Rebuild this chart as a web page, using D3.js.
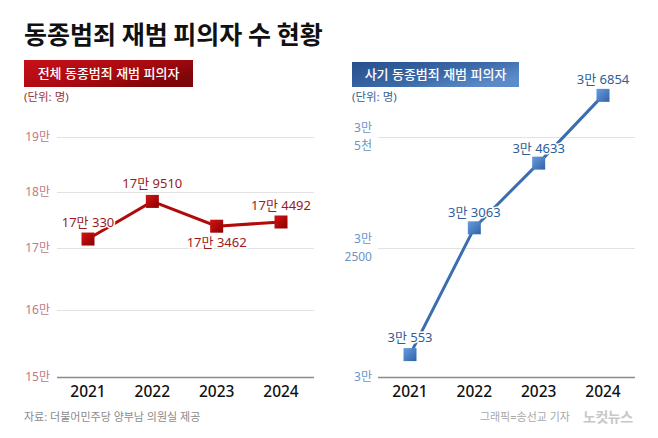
<!DOCTYPE html>
<html><head><meta charset="utf-8">
<script src="https://cdn.jsdelivr.net/npm/d3@7"></script>
<style>
html,body{margin:0;padding:0;background:#fff;}
svg{display:block;font-family:"Noto Sans","Noto Sans CJK KR",sans-serif;}
</style></head>
<body><svg id="c" width="658" height="438"></svg>
<script>
// ---- data ----
const years = ["2021","2022","2023","2024"];
const totalValues = [170330, 179510, 173462, 174492];
const totalLabels = ["17만 330","17만 9510","17만 3462","17만 4492"];
const totalTicks = [150000,160000,170000,180000,190000];
const totalTickLabels = ["15만","16만","17만","18만","19만"];
const fraudValues = [30553, 33063, 34633, 36854];
const fraudLabels = ["3만 553","3만 3063","3만 4633","3만 6854"];
const fraudTicks = [30000,32500,35000];
const fraudTickLabels = [["3만"],["3만","2500"],["3만","5천"]];
const title = "동종범죄 재범 피의자 수 현황";
const leftTitle = "전체 동종범죄 재범 피의자";
const rightTitle = "사기 동종범죄 재범 피의자";
const unitText = "(단위: 명)";
const sourceText = "자료: 더불어민주당 양부남 의원실 제공";
const creditText = "그래픽=송선교 기자";
const logoText = "노컷뉴스";

const svg = d3.select("#c");
const defs = svg.append("defs");
function grad(id, stops, x2, y2){
  const g = defs.append("linearGradient").attr("id",id)
    .attr("x1","0").attr("y1","0").attr("x2",x2).attr("y2",y2);
  stops.forEach(s=>g.append("stop").attr("offset",s[0]).attr("stop-color",s[1]));
}
grad("redBox",[[0,"#c81018"],[0.6,"#a80a10"],[1,"#7e0508"]],"1","0.6");
grad("blueBox",[[0,"#264f8c"],[0.6,"#3b69a8"],[1,"#5b8cc9"]],"1","0.6");
grad("redMk",[[0,"#d41414"],[1,"#8a0000"]],"1","1");
grad("blueMk",[[0,"#6a9be0"],[1,"#2f63a6"]],"1","1");

// title
svg.append("text").attr("x",24).attr("y",44).attr("font-size",25).attr("font-weight",700)
  .attr("font-family","Noto Sans CJK KR").attr("fill","#111").text(title);

// footer
svg.append("text").attr("x",24).attr("y",421).attr("font-size",11).attr("fill","#8a8a8a").text(sourceText);
svg.append("text").attr("x",570).attr("y",421).attr("text-anchor","end").attr("font-size",11).attr("fill","#a8a8a8").text(creditText);
svg.append("text").attr("x",583).attr("y",422).attr("font-size",14).attr("font-weight",700).attr("fill","#c8c8c8").attr("letter-spacing",-0.5).text(logoText);

function panel(o){
  const g = svg.append("g");
  // header box
  g.append("rect").attr("x",o.boxX).attr("y",o.boxY).attr("width",o.boxW).attr("height",o.boxH).attr("fill",o.boxFill);
  g.append("text").attr("x",o.boxX+o.boxW/2).attr("y",o.boxY+o.boxH/2+4.5).attr("text-anchor","middle")
    .attr("font-size",13).attr("font-weight",500).attr("fill","#fff").text(o.header);
  g.append("text").attr("x",o.boxX).attr("y",101).attr("font-size",11.5).attr("fill",o.unitColor).text(unitText);

  const x = d3.scalePoint().domain(years).range(o.xRange);
  // grid
  const axis = d3.axisLeft(o.yAxis).tickValues(o.ticks).tickSize(0).tickFormat("");
  const ag = g.append("g").attr("transform",`translate(${o.gridX0},0)`).call(axis);
  ag.select(".domain").remove();
  ag.selectAll(".tick line").attr("x2",o.gridX1-o.gridX0).attr("stroke","#e2e2e2").attr("stroke-width",1.2);
  ag.selectAll(".tick").filter((d,i)=>i===0).select("line").attr("stroke","#8c8c8c").attr("stroke-width",1.5);
  // tick labels
  o.ticks.forEach((t,i)=>{
    const lines = o.tickLabels[i];
    const y0 = o.yAxis(t);
    const tt = g.append("text").attr("text-anchor","end").attr("font-size",12).attr("fill",o.tickColor);
    if(lines.length===1){
      tt.append("tspan").attr("x",o.labelX).attr("y",y0+4).text(lines[0]);
    } else {
      tt.append("tspan").attr("x",o.labelX).attr("y",y0-5).text(lines[0]);
      tt.append("tspan").attr("x",o.labelX).attr("y",y0+13).text(lines[1]);
    }
  });
  // x labels
  years.forEach(yr=>{
    g.append("text").attr("x",x(yr)).attr("y",397).attr("text-anchor","middle").attr("font-size",15.5)
      .attr("font-weight",500).attr("fill","#111").text(yr);
  });
  // line
  const line = d3.line().x((d,i)=>x(years[i])).y(d=>o.yData(d));
  g.append("path").datum(o.values).attr("d",line).attr("fill","none").attr("stroke",o.lineColor).attr("stroke-width",3);
  const ms = 13;
  g.selectAll("rect.mk").data(o.values).enter().append("rect").attr("class","mk")
    .attr("x",(d,i)=>x(years[i])-ms/2).attr("y",d=>o.yData(d)-ms/2).attr("width",ms).attr("height",ms)
    .attr("fill",o.markFill);
  o.values.forEach((v,i)=>{
    g.append("text").attr("x",x(years[i])+o.labelDx[i]).attr("y",o.yData(v)+o.labelDy[i])
      .attr("text-anchor","middle").attr("font-size",13).attr("fill",o.valColor)
      .attr("paint-order","stroke").attr("stroke","#fff").attr("stroke-width",3).text(o.labels[i]);
  });
}

panel({
  boxX:24, boxY:60, boxW:169, boxH:27, boxFill:"url(#redBox)", header:leftTitle, unitColor:"#9a3535",
  xRange:[88,281], gridX0:57, gridX1:314, labelX:50,
  yAxis: d3.scaleLinear().domain(totalTicks).range([377,310,248,192,137]),
  yData: d3.scaleLinear().domain([170000,180000]).range([240.4,199.4]),
  ticks: totalTicks, tickLabels: totalTickLabels.map(s=>[s]), tickColor:"#c07a84",
  values: totalValues, labels: totalLabels, lineColor:"#b00a0a", markFill:"url(#redMk)", valColor:"#9c1a1a",
  labelDx:[0,0,0,0], labelDy:[-12,-13,21,-12]
});

panel({
  boxX:352, boxY:62, boxW:167, boxH:25, boxFill:"url(#blueBox)", header:rightTitle, unitColor:"#3d5f8f",
  xRange:[410,603], gridX0:378, gridX1:635, labelX:372,
  yAxis: d3.scaleLinear().domain(fraudTicks).range([377,248,137]),
  yData: d3.scaleLinear().domain([30000,32500,35000,37500]).range([384,251,148,77]),
  ticks: fraudTicks, tickLabels: fraudTickLabels, tickColor:"#6d94c6",
  values: fraudValues, labels: fraudLabels, lineColor:"#3b6eae", markFill:"url(#blueMk)", valColor:"#2f5d98",
  labelDx:[0,0,0,0], labelDy:[-13,-11,-10,-11]
});
</script></body></html>
